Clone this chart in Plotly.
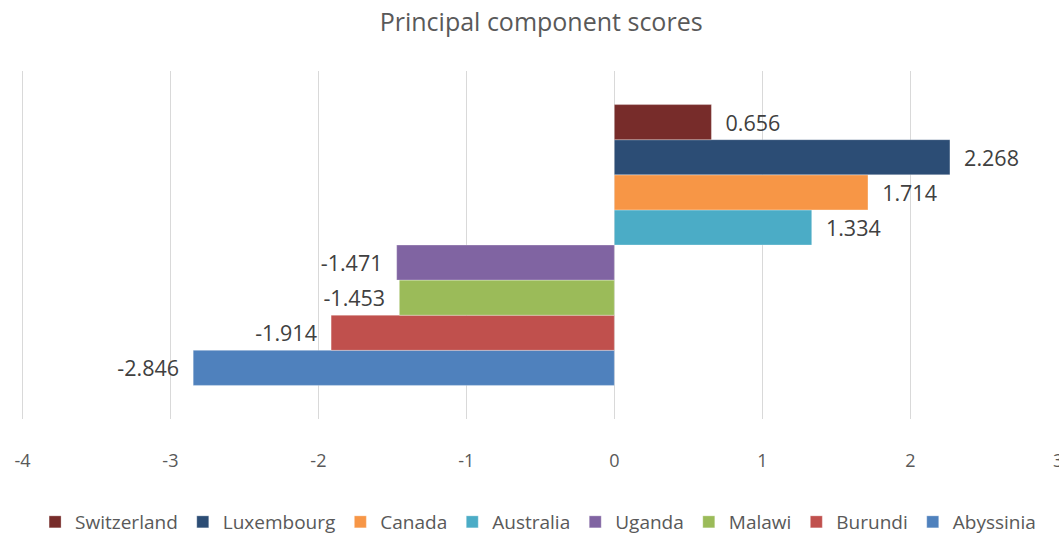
import plotly.graph_objects as go

countries = ["Switzerland", "Luxembourg", "Canada", "Australia", "Uganda", "Malawi", "Burundi", "Abyssinia"]
scores = [0.656, 2.268, 1.714, 1.334, -1.471, -1.453, -1.914, -2.846]
colors = ["#772C2A", "#2C4D75", "#F79646", "#4BACC6", "#8064A2", "#9BBB59", "#C0504D", "#4F81BD"]
x_ticks = [-4, -3, -2, -1, 0, 1, 2, 3]
x_tick_text = ["-4", "-3", "-2", "-1", "0", "1", "2", "3"]

FONT = "'Open Sans', sans-serif"
NB = "\u00a0\u00a0"

fig = go.Figure()
# add from bottom to top so that Switzerland is drawn at top of the group
for name, val, col in reversed(list(zip(countries, scores, colors))):
    label = f"{val:.3f}"
    label = NB + label if val >= 0 else label + NB
    fig.add_trace(go.Bar(
        y=["PC"], x=[val], name=name, orientation="h",
        marker=dict(color=col, line=dict(color="rgba(255,255,255,0.5)", width=0.6)),
        text=[label], textposition="outside",
        textfont=dict(size=21.5, color="#404040", family=FONT),
        cliponaxis=False,
    ))

fig.update_layout(
    width=1059, height=535,
    barmode="group", bargap=0.193, bargroupgap=0,
    plot_bgcolor="white", paper_bgcolor="white",
    margin=dict(l=18, r=0, t=71, b=116, autoexpand=False),
    title=dict(text="Principal component scores", x=0.511, xanchor="center", y=1 - 22 / 535, yanchor="middle",
               font=dict(size=25, color="#595959", family=FONT)),
    xaxis=dict(range=[-4.03, 3.005], tickvals=x_ticks, ticktext=x_tick_text, showgrid=True, gridcolor="#D9D9D9", gridwidth=1,
               zeroline=False, showline=False, ticks="outside", ticklen=25, tickcolor="rgba(0,0,0,0)",
               automargin=False, ticklabeloverflow="allow",
               tickfont=dict(size=18, color="#595959", family=FONT)),
    yaxis=dict(showticklabels=False, showgrid=False, zeroline=False, showline=False, automargin=False),
    showlegend=True,
    legend=dict(orientation="h", traceorder="reversed", x=0.4996, xanchor="center",
                yref="container", y=1 - 522 / 535, yanchor="middle",
                font=dict(size=19, color="#595959", family=FONT), itemwidth=30, tracegroupgap=0),
)

fig.write_html("out.html", config={"displayModeBar": False},
               post_script="document.body.style.margin='0';document.body.style.overflow='hidden';")
